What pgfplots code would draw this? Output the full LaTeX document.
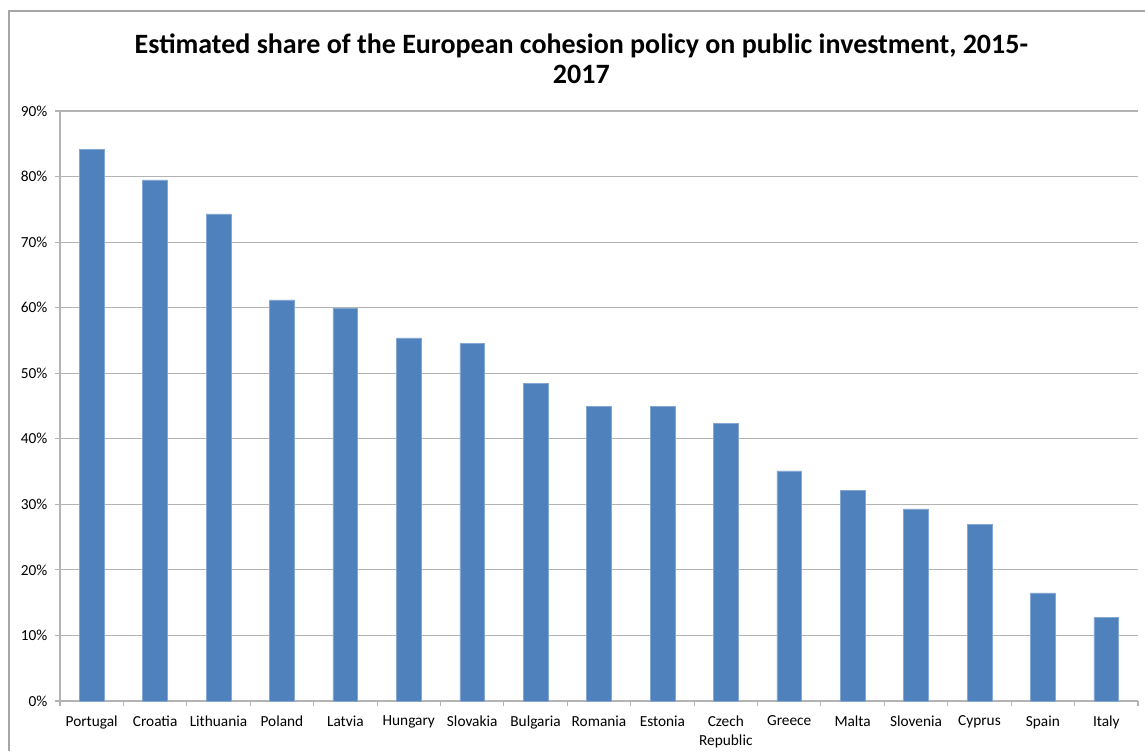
\documentclass[border=0pt]{standalone}
\usepackage{pgfplots}
\pgfplotsset{compat=1.18}
\usepackage{fontspec}
\setmainfont{Carlito}
\definecolor{barblue}{HTML}{4F81BD}
\definecolor{gridgray}{HTML}{B3B3B3}
\definecolor{framegray}{HTML}{A6A6A6}
\begin{document}
\begin{tikzpicture}
\useasboundingbox (0,0) rectangle (858.75pt,563.25pt);
\draw[framegray, line width=0.9pt] (6.75pt,0pt) -- (6.75pt,555pt) -- (858.75pt,555pt);
\node[font=\bfseries\fontsize{21}{22.5}\selectfont, align=center, anchor=center] at (436pt,519.5pt)
  {Estimated share of the European cohesion policy on public investment, 2015-\\2017};
\begin{axis}[
  at={(45pt,37.5pt)}, anchor=south west,
  scale only axis, width=808.5pt, height=442.5pt,
  ymin=0, ymax=90, ytick={0,10,...,90},
  yticklabel={\pgfmathprintnumber{\tick}\%},
  xmin=-0.5, xmax=16.5,
  xtick={0,...,16},
  xticklabels={Portugal,Croatia,Lithuania,Poland,Latvia,Hungary,Slovakia,Bulgaria,Romania,Estonia,{Czech\\Republic},Greece,Malta,Slovenia,Cyprus,Spain,Italy},
  xticklabel style={align=center, font=\fontsize{11.5}{14.5}\selectfont, yshift=-3.5pt},
  yticklabel style={font=\fontsize{11.5}{14}\selectfont, xshift=-2pt},
  /pgf/number format/assume math mode=true,
  major x tick style={draw=none},
  minor xtick={-0.5,0.5,...,16.5},
  minor tick length=4pt,
  major tick length=4pt,
  tick align=outside,
  minor x tick style={gridgray, line width=0.8pt},
  ytick style={gridgray, line width=0.8pt},
  ymajorgrids, major grid style={gridgray, line width=0.8pt},
  axis x line*=bottom, axis y line*=left,
  x axis line style={gridgray, line width=0.8pt, -},
  y axis line style={gridgray, line width=0.8pt, -},
  ybar, bar width=0.39,
]
\addplot[fill=barblue, draw=barblue!70!white, line width=0.4pt] coordinates {
(0,84.1) (1,79.5) (2,74.3) (3,61.2) (4,59.9) (5,55.4) (6,54.5) (7,48.5) (8,44.9) (9,44.9) (10,42.4) (11,35.1) (12,32.1) (13,29.3) (14,26.9) (15,16.5) (16,12.7)
};
\end{axis}
\end{tikzpicture}
\end{document}
